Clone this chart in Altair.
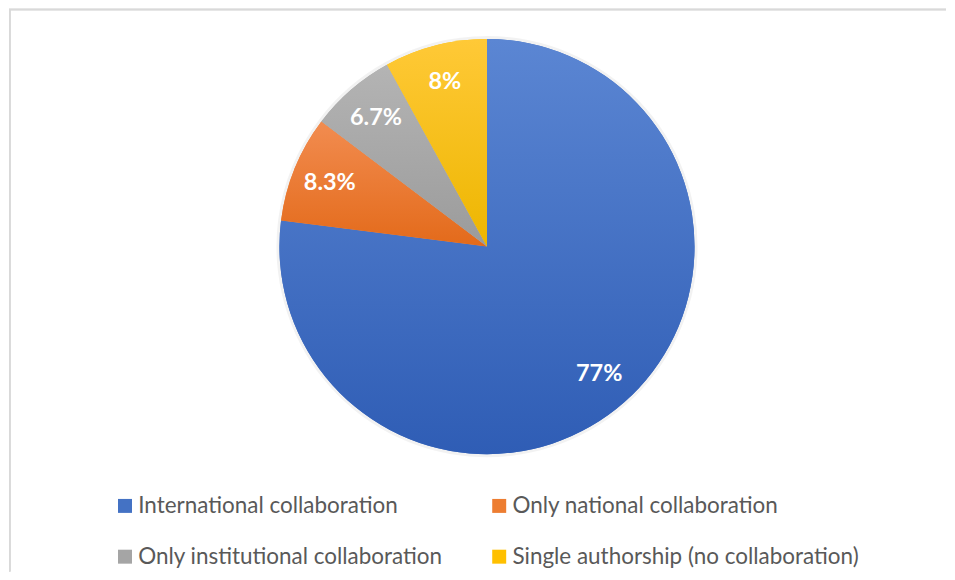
import altair as alt
import pandas as pd

categories = [
    "International collaboration",
    "Only national collaboration",
    "Only institutional collaboration",
    "Single authorship (no collaboration)",
]
values = [77.0, 8.3, 6.7, 8.0]
labels = ["77%", "8.3%", "6.7%", "8%"]
colors = ["#4472C4", "#ED7D31", "#A5A5A5", "#FFC000"]
grad_top = ["#5B86D3", "#F28C50", "#B4B4B4", "#FFC937"]
grad_bottom = ["#2F5DB5", "#E36A1A", "#9B9B9B", "#EDB600"]

df = pd.DataFrame({
    "category": categories,
    "value": values,
    "label": labels,
    "order": list(range(len(categories))),
})

W, H = 939, 564
CX, CY, R = 479, 238.5, 208

base = alt.Chart(df).transform_window(
    cum="sum(value)", sort=[alt.SortField("order")], frame=[None, 0]
).transform_calculate(
    start="datum.cum - datum.value",
    mid="datum.cum - datum.value / 2",
)

theta_scale = alt.Scale(domain=[0, 100], range=[0, 6.283185307179586])

shadow = base.mark_arc(outerRadius=R + 3, color="#000000", opacity=0.05).encode(
    theta=alt.Theta("start:Q", scale=theta_scale),
    theta2="cum:Q",
    x=alt.value(CX), y=alt.value(CY),
)

pie = base.mark_arc(outerRadius=R).encode(
    theta=alt.Theta("start:Q", scale=theta_scale),
    theta2="cum:Q",
    color=alt.Color(
        "category:N",
        scale=alt.Scale(domain=categories, range=colors),
        sort=categories,
        legend=alt.Legend(
            title=None,
            orient="none",
            legendX=105,
            legendY=487,
            columns=2,
            direction="horizontal",
            symbolType="square",
            symbolSize=196,
            symbolStrokeWidth=0,
            labelFont="Lato",
            labelFontSize=22.5,
            labelColor="#595959",
            labelOffset=2,
            labelLimit=500,
            columnPadding=45,
            rowPadding=28,
            padding=0,
        ),
    ),
    x=alt.value(CX), y=alt.value(CY),
)

grads = []
for cat, top, bot in zip(categories, grad_top, grad_bottom):
    g = base.transform_filter(alt.datum.category == cat).mark_arc(
        outerRadius=R,
        color=alt.Gradient(
            gradient="linear", x1=0, y1=0, x2=0, y2=1,
            stops=[alt.GradientStop(color=top, offset=0),
                   alt.GradientStop(color=bot, offset=1)],
        ),
    ).encode(
        theta=alt.Theta("start:Q", scale=theta_scale),
        theta2="cum:Q",
        x=alt.value(CX), y=alt.value(CY),
    )
    grads.append(g)

text = base.mark_text(
    radius=170, font="Lato", fontSize=23.5, fontWeight="bold", color="white"
).encode(
    theta=alt.Theta("mid:Q", scale=theta_scale),
    text="label:N",
    x=alt.value(CX), y=alt.value(CY),
)

border_top = alt.Chart(df).mark_rule(color="#D9D9D9", strokeWidth=1.5).encode(
    x=alt.value(0), x2=alt.value(W), y=alt.value(1)
)
border_left = alt.Chart(df).mark_rule(color="#D9D9D9", strokeWidth=1.5).encode(
    x=alt.value(0.75), y=alt.value(1), y2=alt.value(H)
)

chart = alt.layer(border_top, border_left, shadow, pie, *grads, text).properties(
    width=W, height=H, padding=0, background="white"
).configure_view(strokeWidth=0, stroke="transparent")

chart.save("out.html", embed_options={"renderer": "svg", "actions": False})
